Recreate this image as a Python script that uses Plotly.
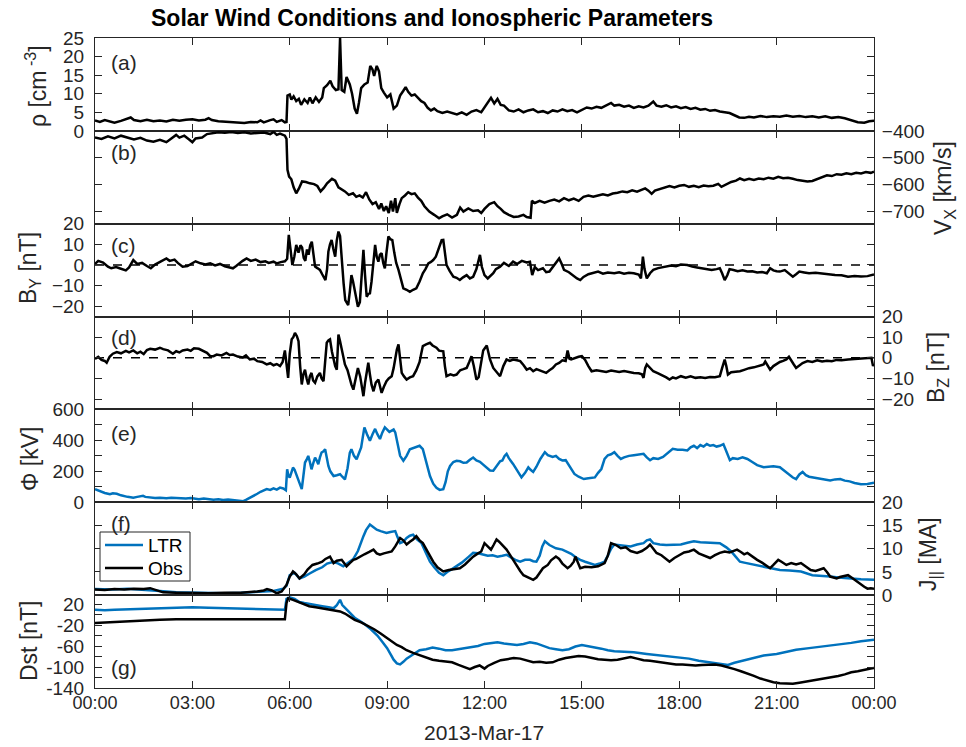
import pandas as pd
import plotly.graph_objects as go

# ---------------------------------------------------------------- data
# hours after 2013-03-17 00:00 UT and the measured / modelled values

rho_t = [0.0, 0.15, 0.3, 0.45, 0.6, 0.8, 1.0, 1.1, 1.2, 1.4, 1.6, 1.8, 2.0, 2.2, 2.4, 2.6, 2.8, 3.0, 3.2, 3.4,
         3.5, 3.6, 3.8, 4.0, 4.2, 4.4, 4.6, 4.8, 5.0, 5.1, 5.2, 5.4, 5.5, 5.6, 5.75, 5.85, 5.9, 5.93, 6.0, 6.05,
         6.12, 6.2, 6.28, 6.35, 6.45, 6.55, 6.62, 6.7, 6.8, 6.9, 7.0, 7.05, 7.15, 7.25, 7.32, 7.42, 7.5, 7.55,
         7.6, 7.68, 7.75, 7.85, 7.92, 8.0, 8.07, 8.13, 8.2, 8.3, 8.4, 8.48, 8.55, 8.6, 8.68, 8.75, 8.82, 8.9,
         9.0, 9.1, 9.2, 9.3, 9.4, 9.5, 9.57, 9.65, 9.75, 9.85, 9.95, 10.05, 10.15, 10.25, 10.35, 10.45, 10.55,
         10.7, 10.85, 11.0, 11.15, 11.3, 11.45, 11.6, 11.75, 11.9, 12.0, 12.1, 12.2, 12.3, 12.4, 12.5, 12.6,
         12.75, 12.9, 13.05, 13.2, 13.35, 13.5, 13.65, 13.8, 13.95, 14.1, 14.25, 14.4, 14.55, 14.7, 14.85,
         15.0, 15.15, 15.3, 15.45, 15.6, 15.75, 15.9, 16.0, 16.15, 16.3, 16.45, 16.6, 16.75, 16.9, 17.05, 17.2,
         17.3, 17.45, 17.6, 17.75, 17.9, 18.05, 18.2, 18.35, 18.5, 18.65, 18.8, 18.95, 19.1, 19.25, 19.4,
         19.55, 19.7, 19.85, 20.0, 20.15, 20.3, 20.5, 20.7, 20.9, 21.1, 21.3, 21.5, 21.7, 21.9, 22.1, 22.3,
         22.5, 22.7, 22.9, 23.1, 23.3, 23.5, 23.7, 23.85, 24.0]
rho_v = [2.8, 2.4, 2.9, 2.5, 2.2, 2.7, 3.2, 3.6, 2.9, 2.6, 3.0, 2.6, 2.8, 2.5, 3.0, 2.7, 3.0, 3.1, 2.8, 3.0,
         3.4, 2.9, 2.6, 2.5, 2.2, 2.3, 2.1, 2.4, 2.3, 2.8, 2.3, 2.9, 3.1, 2.4, 2.9, 2.3, 2.4, 9.5, 9.8, 8.4,
         9.3, 8.0, 8.6, 7.0, 8.5, 7.5, 9.0, 7.4, 9.0, 7.8, 9.0, 11.5, 12.3, 13.5, 12.0, 11.0, 11.2, 25.0,
         11.0, 10.5, 14.5, 12.5, 10.0, 6.0, 4.6, 7.5, 11.5, 12.5, 13.0, 17.5, 16.5, 14.8, 17.5, 16.0, 11.5, 10.3,
         9.0, 9.8, 6.0, 6.8, 9.5, 10.8, 11.8, 10.5, 9.5, 9.8, 8.8, 8.0, 7.5, 6.2, 5.5, 6.0, 5.3,
         4.8, 5.2, 4.7, 4.4, 5.0, 4.3, 5.2, 5.6, 5.0, 6.2, 7.5, 8.9, 7.4, 8.6, 7.0, 6.8,
         5.5, 5.2, 5.8, 5.0, 5.5, 5.8, 5.0, 5.3, 4.8, 5.5, 5.2, 5.8, 5.3, 5.6, 5.0,
         5.7, 6.3, 6.0, 6.5, 6.2, 6.8, 7.5, 6.8, 7.0, 6.5, 6.8, 6.2, 6.6, 6.3, 6.8, 7.9,
         6.8, 6.5, 6.9, 6.3, 6.6, 6.1, 6.4, 5.9, 6.2, 5.7, 5.9, 5.4, 5.6, 5.2, 5.0,
         4.8, 4.2, 3.6, 3.5, 3.8, 3.6, 4.0, 3.7, 3.9, 3.8, 4.1, 3.8, 4.0, 3.7, 3.9, 3.6,
         3.9, 3.5, 3.7, 3.4, 2.9, 2.3, 2.2, 2.6, 2.7]

vx_t = [0.0, 0.2, 0.4, 0.6, 0.8, 1.0, 1.2, 1.4, 1.6, 1.8, 2.0, 2.2, 2.35, 2.5, 2.6, 2.75, 2.9, 3.0, 3.1, 3.3,
        3.45, 3.6, 3.8, 4.0, 4.2, 4.4, 4.6, 4.8, 5.0, 5.2, 5.4, 5.5, 5.6, 5.7, 5.85, 5.9, 5.93, 5.98, 6.05,
        6.12, 6.2, 6.28, 6.38, 6.5, 6.62, 6.75, 6.85, 6.95, 7.05, 7.15, 7.3, 7.4, 7.5, 7.6, 7.7, 7.82, 7.95,
        8.05, 8.15, 8.25, 8.35, 8.45, 8.55, 8.65, 8.75, 8.82, 8.9, 8.97, 9.05, 9.12, 9.18, 9.25, 9.3, 9.38,
        9.45, 9.55, 9.65, 9.75, 9.85, 9.95, 10.05, 10.15, 10.3, 10.45, 10.6, 10.7, 10.85, 11.0, 11.15, 11.25,
        11.35, 11.5, 11.65, 11.8, 11.9, 12.0, 12.15, 12.3, 12.4, 12.5, 12.6, 12.75, 12.9, 13.05, 13.2, 13.3,
        13.42, 13.46, 13.55, 13.7, 13.85, 14.0, 14.15, 14.3, 14.45, 14.6, 14.75, 14.9, 15.05, 15.2, 15.35,
        15.5, 15.65, 15.8, 15.95, 16.1, 16.25, 16.4, 16.55, 16.7, 16.85, 16.95, 17.05, 17.15, 17.25, 17.4,
        17.55, 17.7, 17.85, 18.0, 18.15, 18.3, 18.45, 18.6, 18.75, 18.9, 19.05, 19.2, 19.3, 19.45, 19.6,
        19.75, 19.87, 20.0, 20.15, 20.3, 20.45, 20.6, 20.75, 20.9, 21.05, 21.2, 21.35, 21.5, 21.65, 21.8,
        21.95, 22.1, 22.25, 22.4, 22.55, 22.7, 22.85, 23.0, 23.15, 23.3, 23.45, 23.6, 23.75, 23.9, 24.0]
vx_v = [-425, -430, -420, -428, -418, -425, -432, -426, -436, -440, -433, -442, -430, -415, -425, -418, -432,
        -442, -428, -425, -412, -408, -405, -407, -404, -408, -405, -410, -407, -406, -412, -404, -415, -410,
        -418, -430, -545, -570, -580, -610, -632, -615, -588, -590, -595, -598, -605, -625, -612, -595, -578,
        -585, -610, -617, -625, -638, -632, -645, -640, -648, -628, -655, -672, -665, -690, -670, -698, -680,
        -705, -660, -700, -650, -705, -672, -650, -640, -628, -635, -632, -648, -660, -680, -700, -712, -725,
        -718, -710, -722, -712, -685, -700, -688, -698, -695, -705, -690, -672, -665, -680, -690, -702, -712,
        -720, -718, -712, -720, -723, -660, -668, -660, -667, -660, -655, -662, -650, -658, -652, -660, -645,
        -640, -645, -640, -636, -640, -633, -630, -625, -628, -621, -626, -620, -614, -622, -634, -622, -616,
        -612, -605, -610, -604, -601, -608, -604, -609, -603, -606, -604, -597, -608, -598, -590, -585, -577,
        -583, -578, -582, -577, -580, -574, -578, -571, -576, -574, -578, -583, -585, -588, -586, -578, -570,
        -565, -568, -561, -563, -558, -561, -556, -558, -553, -556, -552]

by_t = [0.0, 0.1, 0.25, 0.4, 0.5, 0.65, 0.8, 0.95, 1.05, 1.18, 1.3, 1.45, 1.6, 1.72, 1.85, 2.0, 2.1, 2.2, 2.3,
        2.45, 2.55, 2.7, 2.85, 3.0, 3.1, 3.25, 3.4, 3.55, 3.7, 3.85, 4.0, 4.15, 4.25, 4.35, 4.45, 4.55, 4.67,
        4.8, 4.95, 5.1, 5.25, 5.35, 5.5, 5.6, 5.72, 5.85, 5.92, 5.97, 6.02, 6.08, 6.14, 6.2, 6.27, 6.33, 6.38,
        6.43, 6.48, 6.53, 6.58, 6.63, 6.68, 6.73, 6.78, 6.85, 6.93, 7.0, 7.06, 7.1, 7.15, 7.19, 7.24, 7.29,
        7.34, 7.4, 7.45, 7.5, 7.55, 7.6, 7.66, 7.71, 7.76, 7.8, 7.85, 7.9, 7.95, 8.0, 8.05, 8.1, 8.16, 8.21,
        8.27, 8.32, 8.37, 8.42, 8.47, 8.52, 8.57, 8.63, 8.68, 8.73, 8.78, 8.83, 8.88, 8.93, 8.98, 9.04, 9.1,
        9.16, 9.22, 9.28, 9.35, 9.42, 9.5, 9.6, 9.7, 9.8, 9.9, 10.0, 10.1, 10.18, 10.27, 10.35, 10.42, 10.5,
        10.57, 10.63, 10.68, 10.73, 10.78, 10.83, 10.93, 11.04, 11.14, 11.24, 11.34, 11.45, 11.55, 11.65,
        11.75, 11.86, 11.92, 12.0, 12.1, 12.2, 12.27, 12.35, 12.48, 12.6, 12.75, 12.88, 13.0, 13.15, 13.3,
        13.4, 13.47, 13.55, 13.65, 13.8, 13.9, 14.0, 14.1, 14.2, 14.3, 14.38, 14.45, 14.6, 14.75, 14.85,
        14.95, 15.05, 15.2, 15.35, 15.5, 15.65, 15.8, 16.0, 16.15, 16.3, 16.45, 16.6, 16.75, 16.82, 16.88,
        16.93, 17.0, 17.1, 17.2, 17.35, 17.5, 17.6, 17.75, 17.9, 18.05, 18.25, 18.4, 18.55, 18.7, 18.85,
        19.0, 19.15, 19.25, 19.32, 19.4, 19.48, 19.55, 19.67, 19.8, 19.95, 20.1, 20.25, 20.4, 20.55, 20.7,
        20.8, 20.9, 21.0, 21.1, 21.25, 21.4, 21.5, 21.6, 21.7, 21.85, 22.0, 22.2, 22.4, 22.6, 22.8, 23.0,
        23.2, 23.4, 23.6, 23.8, 23.92, 24.0]
by_v = [0.5, 2.0, 1.2, -0.8, -1.6, -1.0, -1.8, -2.6, -1.2, 2.4, 0.5, 1.0, -0.5, -1.6, 0.2, 1.5, 2.2, 3.2, 2.0,
        2.6, 1.0, -0.8, -0.5, 0.8, 1.8, 0.8, 0.2, 0.8, -0.2, 0.5, -0.6, -1.2, -1.6, -0.5, 1.0, 2.0, 3.2,
        2.0, 2.6, 1.4, 1.8, 1.0, 1.6, 0.8, 1.4, 1.8, 3.0, 14.6, 8.0, 0.0, 4.0, 9.7, 6.0, 9.5, 8.5,
        3.5, 2.0, 7.5, 5.0, 9.5, 11.3, 6.0, -0.8, -1.5, -2.4, -4.5, -6.0, -7.3, -2.0, 6.5, 10.0, 12.1,
        8.0, 4.0, 12.0, 16.2, 14.0, 2.4, -9.0, -17.0, -18.5, -19.4, -13.0, -4.9, -8.0, -12.1, -17.5, -20.2, -18.0, -8.0,
        7.3, -5.0, -15.4, -14.0, -13.7, -8.0, 2.0, 9.7, 4.0, 1.6, 5.0, 5.7, 1.0, -1.6, 6.0, 13.8, 12.5,
        12.1, 6.0, 1.0, -2.4, -7.0, -11.3, -12.0, -13.0, -12.0, -11.3, -8.0, -4.0, -2.0, 0.8, 1.5, 2.4, 4.0,
        7.0, 9.0, 12.0, 12.1, 6.0, 0.0, -3.0, -5.7, -6.2, -7.3, -6.0, -4.9, -6.5, -5.7,
        -2.0, 4.9, -1.0, -4.9, -6.5, -5.0, -4.0, -2.0, -0.8, 1.0, -0.5, 1.6, 0.5, 2.0, 1.2,
        1.6, -4.9, -1.0, -2.5, -1.6, -3.5, -3.2, -1.0, 1.0, 3.2, 0.5, -2.4, -3.5, -5.5, -6.5,
        -7.3, -5.8, -4.5, -3.8, -3.2, -4.2, -3.6, -4.0, -3.5, -4.2, -3.8, -4.0, -4.6, -6.5, 4.0,
        -2.0, -6.5, -4.0, -2.4, -1.5, -1.0, -0.8, -0.3, -0.6, 0.2, 0.0, -0.8, -1.2, -1.6, -2.0,
        -2.4, -2.0, -1.6, -4.0, -7.3, -5.0, -2.0, -2.4, -3.0, -2.6, -3.2, -3.0, -3.6, -3.4, -4.0,
        -1.6, -2.6, -3.0, -3.2, -2.5, -4.5, -5.7, -4.5, -3.2, -3.6, -4.0, -3.8, -4.2, -4.5, -4.8, -5.0,
        -5.7, -5.3, -5.6, -5.4, -4.9, -4.6]

bz_t = [0.0, 0.1, 0.2, 0.3, 0.36, 0.45, 0.55, 0.67, 0.8, 0.95, 1.05, 1.18, 1.3, 1.4, 1.5, 1.6, 1.7, 1.85, 2.0,
        2.1, 2.25, 2.4, 2.5, 2.6, 2.7, 2.85, 2.95, 3.05, 3.2, 3.3, 3.45, 3.55, 3.65, 3.75, 3.9, 4.05, 4.15,
        4.25, 4.4, 4.55, 4.65, 4.77, 4.9, 5.0, 5.15, 5.29, 5.4, 5.5, 5.6, 5.7, 5.78, 5.85, 5.9, 5.95, 6.0,
        6.06, 6.11, 6.16, 6.22, 6.27, 6.32, 6.37, 6.42, 6.47, 6.52, 6.57, 6.62, 6.67, 6.72, 6.78, 6.85, 6.93,
        6.98, 7.04, 7.09, 7.14, 7.19, 7.24, 7.3, 7.35, 7.4, 7.45, 7.48, 7.5, 7.55, 7.6, 7.65, 7.7, 7.78, 7.85,
        7.9, 7.96, 8.02, 8.1, 8.17, 8.22, 8.27, 8.32, 8.37, 8.42, 8.47, 8.52, 8.58, 8.65, 8.73, 8.78, 8.83,
        8.9, 8.98, 9.05, 9.14, 9.2, 9.25, 9.3, 9.35, 9.4, 9.45, 9.52, 9.6, 9.7, 9.8, 9.9, 10.0, 10.05, 10.1,
        10.2, 10.32, 10.4, 10.52, 10.6, 10.73, 10.78, 10.83, 10.95, 11.05, 11.14, 11.25, 11.35, 11.45, 11.53,
        11.6, 11.67, 11.75, 11.82, 11.9, 11.96, 12.07, 12.12, 12.17, 12.27, 12.38, 12.48, 12.58, 12.68,
        12.78, 12.88, 13.0, 13.1, 13.2, 13.3, 13.4, 13.5, 13.6, 13.7, 13.8, 13.9, 14.0, 14.1, 14.2, 14.3,
        14.4, 14.5, 14.56, 14.62, 14.67, 14.8, 14.9, 15.0, 15.1, 15.2, 15.3, 15.45, 15.6, 15.75, 15.9, 16.0,
        16.15, 16.3, 16.45, 16.6, 16.75, 16.85, 16.9, 16.95, 17.0, 17.1, 17.2, 17.35, 17.5, 17.6, 17.7,
        17.8, 17.9, 18.05, 18.2, 18.35, 18.5, 18.65, 18.8, 18.95, 19.1, 19.25, 19.32, 19.4, 19.45, 19.5,
        19.6, 19.75, 19.87, 20.0, 20.15, 20.3, 20.45, 20.6, 20.65, 20.72, 20.8, 20.9, 21.0, 21.1, 21.2,
        21.3, 21.38, 21.45, 21.52, 21.6, 21.7, 21.8, 21.95, 22.1, 22.25, 22.4, 22.55, 22.7, 22.85, 23.0,
        23.2, 23.4, 23.6, 23.8, 23.92, 23.97, 24.0]
bz_v = [-0.5, 0.5, -1.0, -1.5, -2.4, 0.5, 2.0, 2.8, 2.2, 3.4, 2.6, 3.6, 2.2, 3.0, 1.8, 3.8, 4.4, 4.0, 4.9,
        4.2, 3.6, 2.0, 3.2, 2.6, 3.6, 4.0, 3.4, 4.6, 4.4, 3.6, 2.4, 0.8, 0.8, 1.6, 1.2, 2.4, 1.4,
        1.6, 0.6, 0.2, 1.2, -0.8, -0.4, -1.6, -2.0, -3.2, -2.6, -3.6, -3.0, -4.0, -2.0, 3.6, -2.0, -9.7, 2.0,
        9.0, 10.0, 12.1, 10.5, 8.1, -4.0, -12.9, -8.0, -5.7, -10.0, -12.9, -9.0, -7.3, -11.0, -12.1, -9.0, -7.3,
        -10.0, -11.3, -2.0, 7.3, 8.5, 9.0, 3.0, -0.8, -4.0, -5.7, 4.0, 11.3, 8.0, 4.4, 0.5, -3.2, -6.0, -10.5,
        -13.0, -15.4, -10.0, -4.9, -9.0, -15.0, -18.6, -12.0, -6.0, -2.4, -8.0, -13.0, -16.2, -12.0, -10.5, -14.0, -17.0,
        -14.0, -11.3, -10.0, -8.9, -5.0, 0.8, 4.0, 6.5, 0.0, -7.3, -9.0, -10.5, -9.5, -8.9, -6.0, -2.0, 2.0, 5.7,
        6.5, 7.3, 6.0, 4.9, 3.5, 3.2, -4.0, -8.9, -8.0, -8.5, -8.1, -6.0, -5.5, -4.9, -2.0,
        0.8, -4.0, -10.5, -9.4, -2.0, 3.6, 6.0, 2.0, -0.8, -4.9, -7.0, -8.9, -4.0, -0.8,
        -1.5, -0.8, -1.2, -1.6, -3.5, -5.7, -5.0, -6.5, -5.5, -6.2, -6.8, -7.3, -6.0, -5.0, -3.2, -2.5,
        -1.2, -1.5, 3.6, -0.5, -0.8, 0.0, 0.5, 0.8, -1.0, -4.0, -6.5, -6.0, -6.3, -6.8, -6.2, -6.5,
        -6.8, -6.4, -7.0, -7.3, -7.5, -8.0, -9.7, -5.0, -3.2, -5.0, -6.5, -7.5, -8.5, -9.5, -10.5,
        -9.5, -10.0, -8.9, -9.6, -9.0, -9.7, -9.4, -9.8, -9.3, -9.4, -8.9, -5.0, -0.8, -4.0, -8.1,
        -7.0, -6.8, -6.5, -5.8, -5.0, -4.6, -3.8, -3.2, -1.8, -3.5, -5.7, -4.0, -3.0, -2.0, -1.5,
        -0.8, 0.5, -1.5, -3.0, -4.9, -3.5, -2.5, -1.6, -2.0, -1.2, -1.8, -1.4, -1.6, -1.0, -1.2,
        -0.8, -0.6, -0.4, -0.1, 0.0, -4.0, -3.0]

phi_t = [0.0, 0.1, 0.2, 0.3, 0.4, 0.46, 0.55, 0.67, 0.8, 0.9, 1.0, 1.1, 1.18, 1.3, 1.4, 1.48, 1.55, 1.7, 1.85,
         2.0, 2.1, 2.2, 2.35, 2.5, 2.65, 2.8, 2.95, 3.1, 3.2, 3.35, 3.5, 3.65, 3.8, 3.95, 4.1, 4.25, 4.4, 4.5,
         4.57, 4.65, 4.75, 4.88, 5.0, 5.1, 5.2, 5.29, 5.4, 5.5, 5.6, 5.7, 5.8, 5.88, 5.92, 5.96, 6.0, 6.05,
         6.1, 6.15, 6.2, 6.28, 6.33, 6.37, 6.42, 6.47, 6.52, 6.57, 6.62, 6.67, 6.72, 6.78, 6.83, 6.88, 6.93,
         6.98, 7.04, 7.09, 7.14, 7.19, 7.25, 7.3, 7.35, 7.45, 7.55, 7.62, 7.7, 7.78, 7.85, 7.9, 7.98, 8.06,
         8.13, 8.2, 8.25, 8.3, 8.38, 8.47, 8.55, 8.63, 8.7, 8.78, 8.85, 8.93, 9.0, 9.07, 9.14, 9.2, 9.25,
         9.32, 9.4, 9.5, 9.6, 9.7, 9.8, 9.9, 10.0, 10.1, 10.2, 10.32, 10.42, 10.52, 10.62, 10.73, 10.8,
         10.87, 10.94, 11.04, 11.14, 11.25, 11.35, 11.45, 11.55, 11.65, 11.75, 11.86, 11.95, 12.05, 12.17,
         12.27, 12.35, 12.43, 12.48, 12.55, 12.62, 12.68, 12.75, 12.88, 13.0, 13.14, 13.25, 13.35, 13.42,
         13.5, 13.6, 13.72, 13.86, 13.95, 14.1, 14.2, 14.3, 14.4, 14.5, 14.6, 14.77, 14.9, 15.06, 15.2, 15.4,
         15.5, 15.6, 15.7, 15.8, 15.9, 16.0, 16.1, 16.2, 16.3, 16.45, 16.6, 16.75, 16.9, 17.0, 17.1, 17.2,
         17.35, 17.5, 17.6, 17.7, 17.8, 17.95, 18.1, 18.25, 18.35, 18.45, 18.55, 18.65, 18.75, 18.85, 18.95,
         19.05, 19.15, 19.25, 19.36, 19.45, 19.56, 19.65, 19.8, 19.95, 20.1, 20.25, 20.4, 20.6, 20.75, 20.9,
         21.1, 21.25, 21.4, 21.5, 21.6, 21.7, 21.8, 21.9, 22.0, 22.1, 22.25, 22.4, 22.55, 22.65, 22.8, 22.96,
         23.1, 23.25, 23.4, 23.6, 23.8, 24.0]
phi_v = [85, 75, 68, 60, 55, 52, 58, 55, 45, 38, 35, 33, 30, 35, 38, 42, 35, 30, 28,
         30, 27, 26, 30, 28, 25, 24, 27, 22, 20, 24, 20, 17, 19, 15, 18, 15, 12, 10,
         7, 15, 25, 42, 55, 68, 75, 85, 80, 90, 82, 95, 89, 78, 213, 170, 160, 200,
         224, 210, 181, 130, 100, 85, 170, 257, 275, 300, 260, 213, 250, 289, 270, 246, 290,
         322, 330, 343, 290, 235, 200, 185, 170, 175, 181, 165, 148, 220, 320, 343, 300, 278,
         320, 354, 420, 484, 440, 398, 440, 474, 440, 409, 450, 484, 470, 455, 463, 470, 452,
         380, 300, 268, 300, 343, 350, 355, 365, 343, 260, 170, 120, 94, 80, 85, 130,
         200, 235, 260, 268, 265, 255, 257, 275, 289, 270, 262, 245, 225, 205,
         204, 225, 246, 265, 270, 300, 313, 285, 248, 210, 161, 190, 226, 210,
         196, 230, 280, 324, 305, 293, 300, 280, 270, 272, 240, 183, 165, 150, 155, 161,
         190, 215, 280, 304, 310, 324, 300, 280, 290, 300, 304, 310, 313, 290, 272, 285,
         280, 293, 310, 330, 345, 340, 340, 335, 355, 365, 350, 370, 360, 376, 365,
         370, 360, 365, 376, 330, 272, 285, 280, 290, 280, 260, 240, 226, 230, 232,
         226, 200, 172, 160, 150, 180, 196, 175, 165, 161, 155, 148, 145, 141, 148, 150,
         140, 135, 125, 117, 118, 126]

jltr_t = [0.0, 0.5, 1.0, 1.5, 2.0, 2.5, 3.0, 3.5, 4.0, 4.5, 5.0, 5.5, 5.8, 5.9, 6.0, 6.15, 6.3, 6.45, 6.6, 6.8,
          7.0, 7.15, 7.35, 7.5, 7.65, 7.8, 7.96, 8.1, 8.2, 8.27, 8.35, 8.47, 8.55, 8.68, 8.8, 8.98, 9.1, 9.25,
          9.32, 9.4, 9.5, 9.6, 9.7, 9.8, 9.92, 10.06, 10.2, 10.32, 10.45, 10.6, 10.73, 10.85, 11.0, 11.14, 11.3,
          11.5, 11.65, 11.8, 11.96, 12.1, 12.25, 12.4, 12.55, 12.68, 12.8, 12.95, 13.1, 13.25, 13.4, 13.5, 13.6,
          13.7, 13.78, 13.86, 14.0, 14.2, 14.4, 14.55, 14.67, 14.8, 14.95, 15.1, 15.25, 15.4, 15.55, 15.7, 15.8,
          15.9, 16.0, 16.2, 16.35, 16.5, 16.7, 16.9, 17.0, 17.1, 17.2, 17.4, 17.6, 17.8, 18.05, 18.25, 18.45,
          18.65, 18.85, 19.05, 19.25, 19.45, 19.6, 19.75, 19.87, 20.0, 20.2, 20.4, 20.6, 20.8, 21.1, 21.4,
          21.75, 22.1, 22.4, 22.65, 22.9, 23.2, 23.6, 24.0]
jltr_v = [1.3, 1.2, 1.4, 1.2, 0.9, 0.6, 0.5, 0.5, 0.4, 0.5, 0.7, 0.9, 1.4, 2.0, 4.3, 4.8, 3.6, 4.0, 4.6, 5.4,
          6.0, 6.8, 7.2, 6.8, 6.2, 7.0, 7.8, 9.5, 11.5, 12.7, 14.0, 15.2, 14.8, 14.1, 13.8, 13.4, 13.6, 13.8,
          12.5, 11.2, 11.5, 12.3, 12.8, 13.0, 12.0, 11.2, 9.0, 7.2, 6.0, 4.8, 4.3, 5.0, 5.6, 6.2, 7.0,
          8.2, 9.1, 9.0, 8.7, 8.5, 8.6, 8.3, 8.5, 8.7, 8.2, 7.6, 7.2, 7.6, 7.6, 7.3, 7.2,
          8.5, 10.5, 11.6, 10.8, 10.1, 9.8, 9.3, 8.9, 8.2, 7.6, 7.2, 6.8, 6.5, 6.8, 7.2, 8.5,
          10.0, 10.9, 10.7, 10.5, 10.5, 10.9, 11.2, 11.8, 12.0, 11.2, 10.9, 10.8, 10.9, 10.9, 11.3, 11.6,
          11.4, 11.3, 11.3, 11.2, 10.3, 9.4, 8.2, 7.2, 7.0, 6.7, 6.5, 6.1, 5.8, 5.4, 5.3,
          5.1, 4.3, 4.2, 4.0, 3.8, 3.6, 3.4, 3.3]

jobs_t = [0.0, 0.3, 0.6, 0.9, 1.2, 1.5, 1.7, 1.9, 2.1, 2.5, 3.0, 3.5, 4.0, 4.5, 5.0, 5.2, 5.3, 5.45, 5.6, 5.75,
          5.9, 6.0, 6.1, 6.2, 6.3, 6.45, 6.55, 6.7, 6.85, 7.0, 7.1, 7.24, 7.35, 7.45, 7.6, 7.75, 7.85, 7.96,
          8.05, 8.16, 8.3, 8.45, 8.58, 8.68, 8.78, 8.9, 9.02, 9.14, 9.25, 9.32, 9.4, 9.5, 9.6, 9.7, 9.8, 9.9,
          10.0, 10.1, 10.2, 10.3, 10.42, 10.55, 10.73, 10.9, 11.05, 11.24, 11.4, 11.55, 11.65, 11.8, 11.9,
          12.0, 12.1, 12.2, 12.28, 12.37, 12.45, 12.55, 12.68, 12.8, 12.95, 13.1, 13.2, 13.35, 13.5, 13.6,
          13.7, 13.8, 13.95, 14.05, 14.2, 14.3, 14.4, 14.56, 14.65, 14.75, 14.8, 14.88, 14.95, 15.1, 15.3,
          15.5, 15.6, 15.7, 15.8, 15.9, 16.05, 16.2, 16.35, 16.5, 16.7, 16.85, 17.0, 17.1, 17.2, 17.3, 17.45,
          17.6, 17.7, 17.85, 18.0, 18.15, 18.3, 18.45, 18.6, 18.75, 18.95, 19.1, 19.25, 19.4, 19.55, 19.7,
          19.78, 19.9, 20.0, 20.1, 20.2, 20.3, 20.4, 20.55, 20.7, 20.8, 20.9, 21.05, 21.15, 21.3, 21.45, 21.6,
          21.75, 21.9, 22.05, 22.2, 22.35, 22.45, 22.55, 22.65, 22.75, 22.85, 22.95, 23.05, 23.2, 23.35, 23.5,
          23.6, 23.7, 23.8, 23.9, 24.0]
jobs_v = [1.2, 1.1, 1.3, 1.2, 1.4, 1.3, 1.5, 1.0, 0.6, 0.5, 0.4, 0.4, 0.5, 0.5, 0.8, 1.0, 1.3, 1.0, 0.4, 0.8,
          2.2, 4.0, 5.1, 4.5, 3.6, 4.5, 5.5, 6.5, 6.8, 7.2, 7.8, 8.3, 6.9, 7.4, 7.6, 6.2, 6.9, 7.6,
          7.8, 8.3, 8.8, 9.3, 9.8, 9.0, 8.7, 9.0, 9.2, 9.4, 10.5, 11.5, 12.3, 11.8, 10.9, 11.5, 12.0, 12.7,
          11.8, 11.2, 10.0, 8.5, 7.2, 6.0, 5.1, 5.4, 5.6, 5.8, 6.6, 7.6, 8.3, 9.0, 9.4,
          11.2, 10.6, 9.8, 10.8, 12.0, 11.5, 10.8, 9.8, 8.5, 6.8, 5.2, 4.3, 3.8, 3.3, 3.8,
          4.8, 5.8, 6.5, 7.5, 8.3, 7.8, 6.8, 5.8, 6.3, 7.2, 8.3, 7.0, 5.8, 6.1, 6.0,
          6.2, 6.5, 6.9, 8.5, 11.2, 10.8, 10.1, 10.3, 9.5, 9.1, 9.5, 10.2, 10.9, 10.0, 9.1, 8.6,
          7.8, 7.2, 8.0, 8.6, 9.2, 9.4, 9.8, 9.0, 8.5, 8.0, 8.6, 9.1, 9.4, 9.2, 9.6,
          9.8, 9.3, 8.8, 9.1, 8.6, 8.0, 7.6, 7.0, 6.2, 5.8, 6.5, 7.6, 7.2, 6.5, 6.9, 6.6,
          6.9, 6.2, 5.4, 5.2, 5.6, 5.8, 5.0, 4.0, 3.8, 3.6, 3.9, 4.1, 4.3, 3.6, 2.8,
          2.2, 1.8, 1.4, 1.5, 1.4]

dltr_t = [0.0, 0.3, 0.6, 1.0, 1.5, 2.0, 2.5, 3.0, 3.5, 4.0, 4.5, 5.0, 5.5, 5.85, 5.9, 6.0, 6.15, 6.3, 6.45,
          6.6, 6.8, 7.0, 7.2, 7.35, 7.45, 7.55, 7.62, 7.75, 7.9, 8.0, 8.15, 8.3, 8.5, 8.7, 8.85, 9.0, 9.1,
          9.2, 9.3, 9.4, 9.5, 9.6, 9.75, 9.9, 10.0, 10.2, 10.4, 10.6, 10.8, 11.0, 11.2, 11.4, 11.6, 11.8, 12.0,
          12.2, 12.4, 12.6, 12.8, 13.0, 13.2, 13.4, 13.6, 13.8, 14.0, 14.2, 14.4, 14.6, 14.8, 15.0, 15.2, 15.4,
          15.6, 15.8, 16.0, 16.3, 16.6, 17.0, 17.3, 17.6, 18.0, 18.3, 18.6, 19.0, 19.3, 19.5, 19.7, 20.0, 20.3,
          20.6, 21.0, 21.3, 21.6, 22.0, 22.3, 22.6, 23.0, 23.3, 23.6, 24.0]
dltr_v = [9, 8, 9, 10, 11, 12, 13, 14, 13, 12, 11, 11, 10, 9, 30, 33, 30, 24, 22,
          20, 18, 16, 14, 12, 18, 28, 18, 10, 2, -6, -12, -18, -28, -40, -52, -64, -75,
          -86, -93, -95, -90, -84, -78, -72, -68, -66, -63, -65, -68, -68, -66, -63, -62, -60, -56,
          -55, -53, -55, -56, -58, -56, -53, -55, -60, -64, -66, -68, -66, -61, -58, -60, -63,
          -65, -68, -70, -71, -72, -75, -77, -78, -81, -84, -88, -92, -94, -96, -92, -87, -82,
          -78, -75, -71, -67, -64, -62, -59, -56, -54, -51, -48]

dobs_t = [0.0, 0.3, 0.6, 1.0, 1.5, 2.0, 2.5, 3.0, 3.5, 4.0, 4.5, 5.0, 5.5, 5.85, 5.9, 5.95, 6.1, 6.25, 6.4,
          6.6, 6.8, 7.0, 7.2, 7.4, 7.55, 7.7, 7.85, 8.0, 8.2, 8.4, 8.6, 8.8, 9.0, 9.15, 9.3, 9.45, 9.6, 9.8,
          10.0, 10.2, 10.4, 10.6, 10.8, 11.0, 11.2, 11.4, 11.55, 11.7, 11.85, 12.0, 12.1, 12.3, 12.5, 12.7,
          12.9, 13.1, 13.3, 13.5, 13.7, 13.9, 14.1, 14.3, 14.5, 14.7, 14.9, 15.1, 15.3, 15.5, 15.7, 15.9, 16.1,
          16.3, 16.5, 16.7, 16.9, 17.1, 17.3, 17.5, 17.7, 17.9, 18.1, 18.3, 18.5, 18.7, 18.9, 19.1, 19.3, 19.5,
          19.7, 19.9, 20.1, 20.3, 20.5, 20.7, 20.9, 21.1, 21.3, 21.5, 21.7, 21.9, 22.1, 22.3, 22.5, 22.7, 22.9,
          23.1, 23.3, 23.5, 23.7, 23.9, 24.0]
dobs_v = [-16, -15, -14, -12, -11, -10, -9, -9, -8, -8, -8, -8, -9, -9, 22, 31, 28, 24, 20,
          16, 14, 12, 10, 8, 6, 2, -4, -10, -15, -21, -28, -36, -45, -52, -58, -62, -68, -73,
          -77, -82, -86, -88, -90, -91, -96, -101, -104, -100, -97, -103, -98, -92, -87, -85,
          -83, -84, -88, -91, -90, -92, -91, -86, -83, -81, -79, -80, -83, -85, -86, -87, -86,
          -83, -81, -84, -87, -88, -90, -91, -93, -95, -95, -96, -97, -96, -95, -95, -97, -100,
          -104, -108, -112, -117, -122, -126, -129, -131, -132, -132, -130, -128, -126, -123, -121, -119, -117,
          -114, -110, -108, -105, -103, -102]

legend_names = ["LTR", "Obs"]

# ---------------------------------------------------------------- styling
BASE = pd.Timestamp("2013-03-17")
BLUE = "#0072BD"
AXC = "#262626"
FONT = "Liberation Sans, Arial, Helvetica, sans-serif"
LW = 2.5

W, H = 966, 747
L, R, T, B = 95, 874, 38, 688      # plot-area edges in pixels


def when(hours):
    return [BASE + pd.Timedelta(hours=h) for h in hours]


def px(x):
    return (x - L) / (R - L)


def py(y):
    return (B - y) / (B - T)


# one row per panel: (series, y-range, tick values, tick texts or None, side)
panels = [
    ([(rho_t, rho_v, "black")], [0, 25], [0, 5, 10, 15, 20, 25], None, "left"),
    ([(vx_t, vx_v, "black")], [-745, -400], [-700, -600, -500, -400], None, "right"),
    ([(by_t, by_v, "black")], [-25, 20], [-20, -10, 0, 10, 20], None, "left"),
    ([(bz_t, bz_v, "black")], [-25, 20], [-20, -10, 0, 10, 20], None, "right"),
    ([(phi_t, phi_v, BLUE)], [0, 600], [0, 100, 200, 300, 400, 500, 600],
     ["0", "", "200", "", "400", "", "600"], "left"),
    ([(jltr_t, jltr_v, BLUE), (jobs_t, jobs_v, "black")], [0, 20], [0, 5, 10, 15, 20], None, "right"),
    ([(dltr_t, dltr_v, BLUE), (dobs_t, dobs_v, "black")], [-140, 37],
     [-140, -120, -100, -80, -60, -40, -20, 0, 20],
     ["-140", "", "-100", "", "-60", "", "-20", "", "20"], "left"),
]

n = len(panels)
fig = go.Figure()
layout = dict(
    width=W, height=H,
    margin=dict(l=L, r=W - R, t=T, b=H - B),
    paper_bgcolor="white", plot_bgcolor="white",
    font=dict(family=FONT, size=18, color=AXC),
    showlegend=False,
)

x_start, x_end = BASE, BASE + pd.Timedelta(hours=24)
xticks = [BASE + pd.Timedelta(hours=h) for h in range(0, 25, 3)]

for i, (series, yr, yt, ytext, side) in enumerate(panels):
    k = "" if i == 0 else str(i + 1)
    for ts, vs, col in series:
        fig.add_trace(go.Scatter(
            x=when(ts), y=vs, mode="lines",
            line=dict(color=col, width=LW),
            xaxis="x" + k, yaxis="y" + k,
        ))
    d0 = 1 - (i + 1) / n
    d1 = 1 - i / n
    layout["xaxis" + k] = dict(
        domain=[0, 1], anchor="y" + k, range=[x_start, x_end],
        tickvals=xticks, tickformat="%H:%M",
        ticks="inside", ticklen=7, tickcolor=AXC, tickwidth=1,
        showline=True, linecolor=AXC, linewidth=1, mirror="ticks",
        showgrid=False, zeroline=False,
        showticklabels=(i == n - 1),
        tickfont=dict(size=18, color=AXC),
        ticklabelstandoff=-2,
    )
    ax = dict(
        domain=[d0, d1], anchor="x" + k, range=yr, side=side,
        tickvals=yt, ticks="inside", ticklen=7, tickcolor=AXC, tickwidth=1,
        showline=True, linecolor=AXC, linewidth=1, mirror="ticks",
        showgrid=False, zeroline=False,
        tickfont=dict(size=19, color=AXC),
        ticklabelstandoff=6 if side == "left" else 3,
    )
    if ytext is not None:
        ax["ticktext"] = ytext
    layout["yaxis" + k] = ax

fig.update_layout(**layout)

# dashed zero lines for the IMF components
for k in ("3", "4"):
    fig.add_shape(type="line", xref="x" + k + " domain", yref="y" + k,
                  x0=0, x1=1, y0=0, y1=0, layer="below",
                  line=dict(color="black", width=1.5, dash="dash"))

# legend box for the field-aligned current panel
fig.add_shape(type="rect", xref="paper", yref="paper",
              x0=px(100), x1=px(190), y0=py(581), y1=py(532),
              fillcolor="white", line=dict(color=AXC, width=1))
for name, col, yy in zip(legend_names, [BLUE, "black"], [545, 568]):
    fig.add_shape(type="line", xref="paper", yref="paper",
                  x0=px(105), x1=px(143), y0=py(yy), y1=py(yy),
                  line=dict(color=col, width=LW))
    fig.add_annotation(text=name, xref="paper", yref="paper", x=px(146), y=py(yy),
                       xanchor="left", yanchor="middle", showarrow=False,
                       font=dict(size=19, color="black"))

# panel letters
letters = ["(a)", "(b)", "(c)", "(d)", "(e)", "(f)", "(g)"]
letter_y = [62, 152, 246, 337, 433, 523, 667]
for lab, yy in zip(letters, letter_y):
    fig.add_annotation(text=lab, xref="paper", yref="paper", x=px(109), y=py(yy),
                       xanchor="left", yanchor="middle", showarrow=False,
                       font=dict(size=21, color=AXC))

# axis titles
titles = [
    ("\u03c1 [cm<sup> -3</sup>]", 36, 86),
    ("B<sub>Y</sub> [nT]", 29, 268),
    ("\u03a6 [kV]", 30, 459),
    ("Dst [nT]", 29, 641),
    ("V<sub>X</sub> [km/s]", 945, 188),
    ("B<sub>Z</sub> [nT]", 937, 368),
    ("J<sub>||</sub> [MA]", 929, 554),
]
for txt, xx, yy in titles:
    fig.add_annotation(text=txt, xref="paper", yref="paper", x=px(xx), y=py(yy),
                       xanchor="center", yanchor="middle", textangle=-90, showarrow=False,
                       font=dict(size=23, color=AXC))

# date under the time axis and the figure title
fig.add_annotation(text="2013-Mar-17", xref="paper", yref="paper", x=px(484), y=py(732),
                   xanchor="center", yanchor="middle", showarrow=False,
                   font=dict(size=21, color=AXC))
fig.add_annotation(text="<b>Solar Wind Conditions and Ionospheric Parameters</b>",
                   xref="paper", yref="paper", x=px(432), y=py(18),
                   xanchor="center", yanchor="middle", showarrow=False,
                   font=dict(size=23, color="black"))

fig.write_html("out.html")
